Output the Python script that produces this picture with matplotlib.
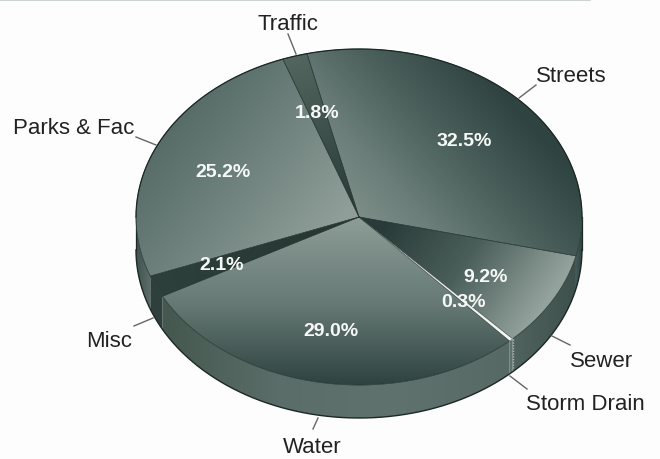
import numpy as np
import matplotlib
matplotlib.use("Agg")
import matplotlib.pyplot as plt
from matplotlib.colors import LinearSegmentedColormap
from matplotlib.patches import Polygon

labels = ["Streets", "Sewer", "Storm Drain", "Water", "Misc", "Parks & Fac", "Traffic"]
values = [32.5, 9.2, 0.3, 29.0, 2.1, 25.2, 1.8]

# pie geometry in pixels
CX, CY = 359, 218
RX, RY = 223, 168
DEPTH = 33
START = -13.5

# gradient of each top face: start point, end point, colours
top_shades = {
    "Streets": ((340, 235), (500, 90), ["#86968f", "#6b7e79", "#4a5f5a", "#2f4441"]),
    "Sewer": ((385, 225), (530, 325), ["#293b38", "#4b5f5a", "#94a29d"]),
    "Storm Drain": ((400, 260), (510, 342), ["#eef0ee", "#f4f6f4"]),
    "Water": ((350, 225), (350, 385), ["#8a9a95", "#667974", "#2f4340"]),
    "Misc": ((150, 280), (350, 220), ["#2e403c", "#263733"]),
    "Parks & Fac": ((345, 215), (175, 75), ["#8f9e99", "#6d807b", "#4f6460"]),
    "Traffic": ((355, 215), (295, 55), ["#283a37", "#53665f"]),
}
# gradient of the outer wall of each slice, running left to right
wall_shades = {
    "Streets": ["#46595a", "#2f4240"],
    "Sewer": ["#50635f", "#3d504c"],
    "Storm Drain": ["#5f726d", "#5f726d"],
    "Water": ["#45584f", "#5a6d68", "#5f726d", "#566965"],
    "Misc": ["#2e3f3c", "#2e3f3c"],
    "Parks & Fac": ["#3f524e", "#5d706b"],
    "Traffic": ["#2f4240", "#2f4240"],
}

# label centre and leader line for the outside names
name_pos = {
    "Streets": (571, 76),
    "Sewer": (602, 362),
    "Storm Drain": (585, 405),
    "Water": (312, 448),
    "Misc": (109, 342),
    "Parks & Fac": (74, 129),
    "Traffic": (288, 24),
}
leaders = {
    "Streets": ((536, 86), (519, 99)),
    "Sewer": ((570, 346), (552, 337)),
    "Storm Drain": ((527, 390), (510, 377)),
    "Water": ((313, 430), (318, 419)),
    "Misc": ((134, 327), (153, 319)),
    "Parks & Fac": ((136, 138), (156, 146)),
    "Traffic": ((288, 35), (296, 55)),
}
pct_pos = {
    "Streets": (464, 142),
    "Sewer": (486, 278),
    "Storm Drain": (464, 303),
    "Water": (331, 332),
    "Misc": (222, 266),
    "Parks & Fac": (223, 173),
    "Traffic": (317, 113),
}

W, H = 660, 460
xx, yy = np.meshgrid(np.arange(W) + 0.5, np.arange(H) + 0.5)


def rim(a0, a1, dy=0):
    # points on the pie rim, angles clockwise from the top
    t = np.radians(np.linspace(a0, a1, max(int(abs(a1 - a0) * 2), 2)))
    return np.column_stack([CX + RX * np.sin(t), CY + dy - RY * np.cos(t)])


def fill_gradient(ax, pts, p0, p1, colors, zorder):
    patch = Polygon(pts, closed=True, facecolor="none", edgecolor="none", zorder=zorder)
    ax.add_patch(patch)
    d = np.array(p1, float) - np.array(p0, float)
    t = ((xx - p0[0]) * d[0] + (yy - p0[1]) * d[1]) / (d @ d)
    cmap = LinearSegmentedColormap.from_list("g", colors)
    im = ax.imshow(np.clip(t, 0, 1), cmap=cmap, vmin=0, vmax=1, extent=(0, W, H, 0),
                   aspect="auto", zorder=zorder, interpolation="bilinear")
    im.set_clip_path(patch)


def draw_pie(ax):
    angles = START + np.cumsum([0] + values) * 360 / sum(values)
    for i, name in enumerate(labels):
        a0, a1 = angles[i], angles[i + 1]
        # only the part facing the viewer gets a wall
        w0, w1 = max(a0, 90), min(a1, 270)
        if w1 > w0:
            top = rim(w0, w1)
            wall = np.vstack([top, rim(w1, w0, DEPTH)])
            fill_gradient(ax, wall, (top[:, 0].min(), 0), (top[:, 0].max() + 1, 0),
                          wall_shades[name], 2)
            if name == "Storm Drain":
                seam = np.array([top[0], top[0] + [0, DEPTH]])
                ax.plot(*seam.T, color="#a9b5b1", lw=1.0, ls=(0, (1, 1)), zorder=3)
    # silhouette of the wall
    ax.plot(*rim(90, 270, DEPTH).T, color="#1c2826", lw=1.0, zorder=3)
    for side in (CX - RX, CX + RX):
        ax.plot([side, side], [CY, CY + DEPTH], color="#1c2826", lw=0.9, zorder=3)
    for i, name in enumerate(labels):
        a0, a1 = angles[i], angles[i + 1]
        face = np.vstack([[CX, CY], rim(a0, a1)])
        p0, p1, colors = top_shades[name]
        fill_gradient(ax, face, p0, p1, colors, 4)
        if name == "Storm Drain":
            ax.plot(*rim(a0, a1).T, color="#eef0ee", lw=0.7, zorder=5)
        else:
            ax.plot(*np.vstack([face, face[:1]]).T, color="#26342f", lw=0.5, alpha=0.8, zorder=5)
    ax.plot(*rim(90, 270).T, color="#2a3a36", lw=0.5, alpha=0.6, zorder=5)
    ax.plot(*rim(-90, 90).T, color="#1c2826", lw=0.9, zorder=5)


def draw_labels(ax):
    for name, v in zip(labels, values):
        x, y = name_pos[name]
        ax.text(x, y, name, fontsize=16, color="#222222", ha="center", va="center", zorder=6)
        (x0, y0), (x1, y1) = leaders[name]
        ax.plot([x0, x1], [y0, y1], color="#666666", lw=1.0, zorder=6)
        x, y = pct_pos[name]
        ax.text(x, y, f"{v:.1f}%", fontsize=14, fontweight="bold", color="#f6f8f6",
                ha="center", va="center", zorder=7)


plt.rcParams["font.family"] = ["Liberation Sans", "DejaVu Sans"]
fig = plt.figure(figsize=(6.6, 4.6), dpi=100, facecolor="#fdfdfd")
ax = fig.add_axes([0, 0, 1, 1])
ax.set_facecolor("#fdfdfd")

draw_pie(ax)
draw_labels(ax)

# scan edge along the top of the page
ax.plot([0, 590], [0.6, 0.6], color="#c4cbc8", lw=1.2, zorder=1)

ax.set_xlim(0, W)
ax.set_ylim(H, 0)
ax.axis("off")
fig.savefig("out.png", dpi=100, facecolor=fig.get_facecolor())
